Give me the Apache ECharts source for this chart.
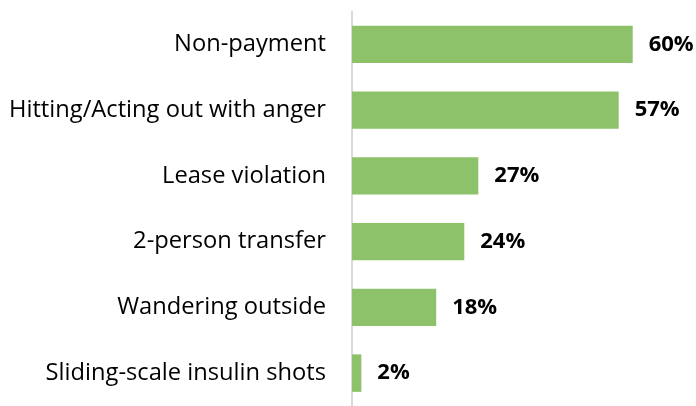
<!DOCTYPE html>
<html>
<head>
<meta charset="utf-8">
<script src="https://cdn.jsdelivr.net/npm/echarts@6/dist/echarts.min.js"></script>
<style>
  html, body { margin: 0; padding: 0; background: #fff; }
  #chart { width: 696px; height: 406px; }
</style>
</head>
<body>
<div id="chart"></div>
<script>
const categories = [
    "Non-payment",
    "Hitting/Acting out with anger",
    "Lease violation",
    "2-person transfer",
    "Wandering outside",
    "Sliding-scale insulin shots",
];
const values = [60, 57, 27, 24, 18, 2];

const chart = echarts.init(document.getElementById("chart"));

chart.setOption({
    backgroundColor: "#fff",
    animation: false,
    grid: { left: 352, top: 11.5, width: 327.5, height: 398 },
    xAxis: {
        type: "value",
        min: 0,
        max: 70,
        show: false,
    },
    yAxis: {
        type: "category",
        inverse: true,
        data: categories,
        axisLine: { show: true, lineStyle: { color: "#d9d9d9", width: 2 } },
        axisTick: { show: false },
        axisLabel: {
            margin: 26,
            color: "#000",
            fontFamily: "Open Sans",
            fontSize: 23.7,
        },
    },
    series: [{
        type: "bar",
        data: values,
        barCategoryGap: "43%",
        itemStyle: { color: "#8dc26a" },
        label: {
            show: true,
            position: "right",
            distance: 16,
            formatter: "{c}%",
            color: "#000",
            fontFamily: "Open Sans",
            fontWeight: "bold",
            fontSize: 22,
        },
    }],
});
</script>
</body>
</html>
